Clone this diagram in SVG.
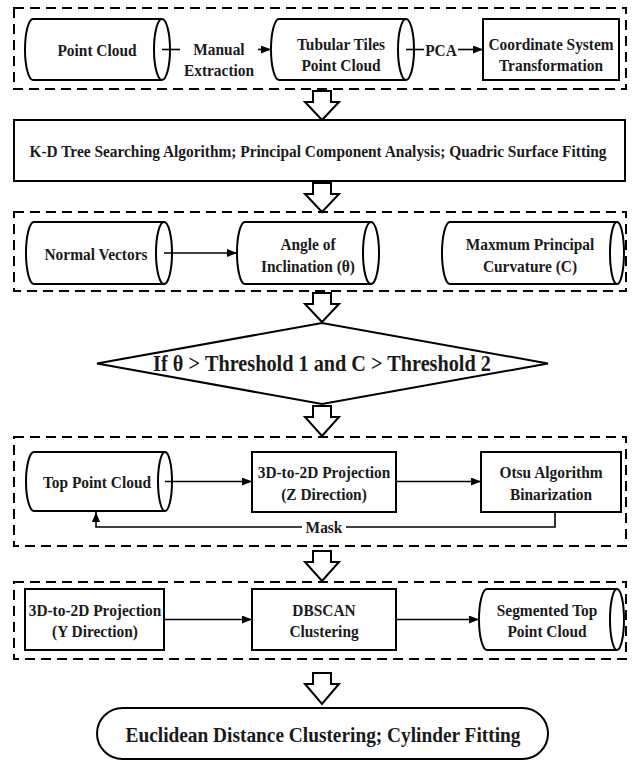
<svg xmlns="http://www.w3.org/2000/svg" width="633" height="765" viewBox="0 0 633 765" font-family="'Liberation Serif', 'Times New Roman', 'DejaVu Serif', serif">
<defs>
<marker id="ah" markerWidth="10" markerHeight="8" refX="10" refY="4" orient="auto" markerUnits="userSpaceOnUse">
<path d="M0,0 L10,4 L0,8 Z" fill="#000"/>
</marker>
</defs>
<style>
.grp{fill:none;stroke:#000;stroke-width:2;stroke-dasharray:10 6}
.sh{fill:#fff;stroke:#000;stroke-width:2}
.cyl{fill:none;stroke:#000;stroke-width:2}
.ln{fill:none;stroke:#000;stroke-width:1.6}
.ha{fill:#fff;stroke:#000;stroke-width:2;stroke-linejoin:miter}
.t{font-family:'Liberation Serif','Times New Roman',serif;font-weight:bold;font-size:17.5px;fill:#1a1a1a;text-anchor:middle}
.big{font-size:22.5px}
.fin{font-size:21.5px}
</style>
<rect x="0" y="0" width="633" height="765" fill="#fff"/>

<g id="groups">
<rect class="grp" x="14" y="8" width="612" height="81"/>
<rect class="grp" x="14" y="212" width="612" height="79"/>
<rect class="grp" x="14" y="437" width="612" height="109"/>
<rect class="grp" x="14" y="582" width="612" height="77"/>
</g>

<g id="flow-arrows">
<path class="ha" d="M313,91 V102 H305 L322,120 L339,102 H331 V91 Z"/>
<path class="ha" d="M313,183 V194 H305 L322,212 L339,194 H331 V183 Z"/>
<path class="ha" d="M313,293 V304 H305 L322,322 L339,304 H331 V293 Z"/>
<path class="ha" d="M313,406 V417 H305 L322,436 L339,417 H331 V406 Z"/>
<path class="ha" d="M313,551 V562 H305 L322,581 L339,562 H331 V551 Z"/>
<path class="ha" d="M313,673 V684 H305 L322,704 L339,684 H331 V673 Z"/>
</g>

<g id="point-cloud">
<path class="cyl" d="M33,19 H162 M33,80 H162 M33,19 A8,30.5 0 0 0 33,80"/>
<ellipse class="cyl" cx="162" cy="49.5" rx="8" ry="30.5"/>
<text class="t" transform="translate(97,55.5) scale(0.88,1)">Point Cloud</text>
</g>
<g id="tubular-tiles">
<path class="cyl" d="M279,19 H406 M279,80 H406 M279,19 A8,30.5 0 0 0 279,80"/>
<ellipse class="cyl" cx="406" cy="49.5" rx="8" ry="30.5"/>
<text class="t" transform="translate(341,49.5) scale(0.88,1)">Tubular Tiles</text>
<text class="t" transform="translate(341,71) scale(0.88,1)">Point Cloud</text>
</g>
<g id="coordinate-transform">
<rect class="sh" x="483" y="19" width="136" height="61"/>
<text class="t" transform="translate(551,49.5) scale(0.88,1)">Coordinate System</text>
<text class="t" transform="translate(551,71) scale(0.88,1)">Transformation</text>
</g>

<g id="kd-tree">
<rect class="sh" x="14" y="120" width="611" height="61"/>
<text class="t" transform="translate(318,157) scale(0.88,1)">K-D Tree Searching Algorithm; Principal Component Analysis; Quadric Surface Fitting</text>
</g>
<g id="normal-vectors">
<path class="cyl" d="M34,222 H164 M34,284 H164 M34,222 A8,31 0 0 0 34,284"/>
<ellipse class="cyl" cx="164" cy="253" rx="8" ry="31"/>
<text class="t" transform="translate(96,260) scale(0.88,1)">Normal Vectors</text>
</g>
<g id="angle-inclination">
<path class="cyl" d="M245,222 H371 M245,284 H371 M245,222 A8,31 0 0 0 245,284"/>
<ellipse class="cyl" cx="371" cy="253" rx="8" ry="31"/>
<text class="t" transform="translate(308,250) scale(0.88,1)">Angle of</text>
<text class="t" transform="translate(308,272) scale(0.88,1)">Inclination (θ)</text>
</g>
<g id="max-curvature">
<path class="cyl" d="M450,222 H617 M450,284 H617 M450,222 A8,31 0 0 0 450,284"/>
<ellipse class="cyl" cx="617" cy="253" rx="7" ry="31"/>
<text class="t" transform="translate(530,250) scale(0.88,1)">Maxmum Principal</text>
<text class="t" transform="translate(530,272) scale(0.88,1)">Curvature (C)</text>
</g>

<g id="threshold-decision">
<polygon class="sh" points="97,363.5 322,323 548,363.5 322,404"/>
<text class="t big" transform="translate(322,371) scale(0.9,1)">If θ &gt; Threshold 1 and C &gt; Threshold 2</text>
</g>

<g id="top-point-cloud">
<path class="cyl" d="M34,452 H165 M34,511 H165 M34,452 A8,29.5 0 0 0 34,511"/>
<ellipse class="cyl" cx="165" cy="481.5" rx="7" ry="29.5"/>
<text class="t" transform="translate(97,488) scale(0.88,1)">Top Point Cloud</text>
</g>
<g id="projection-z">
<rect class="sh" x="252" y="452" width="144" height="60"/>
<text class="t" transform="translate(324,478) scale(0.88,1)">3D-to-2D Projection</text>
<text class="t" transform="translate(324,500) scale(0.88,1)">(Z Direction)</text>
</g>
<g id="otsu">
<rect class="sh" x="481" y="452" width="140" height="60"/>
<text class="t" transform="translate(551,478) scale(0.88,1)">Otsu Algorithm</text>
<text class="t" transform="translate(551,500) scale(0.88,1)">Binarization</text>
</g>

<g id="projection-y">
<rect class="sh" x="25" y="589" width="139" height="61"/>
<text class="t" transform="translate(95,615.5) scale(0.88,1)">3D-to-2D Projection</text>
<text class="t" transform="translate(95,637) scale(0.88,1)">(Y Direction)</text>
</g>
<g id="dbscan">
<rect class="sh" x="252" y="589" width="144" height="61"/>
<text class="t" transform="translate(324,615.5) scale(0.88,1)">DBSCAN</text>
<text class="t" transform="translate(324,637) scale(0.88,1)">Clustering</text>
</g>
<g id="segmented-top">
<path class="cyl" d="M487,589 H617 M487,650 H617 M487,589 A8,30.5 0 0 0 487,650"/>
<ellipse class="cyl" cx="617" cy="619.5" rx="7" ry="30.5"/>
<text class="t" transform="translate(547,615.5) scale(0.88,1)">Segmented Top</text>
<text class="t" transform="translate(547,637) scale(0.88,1)">Point Cloud</text>
</g>

<g id="euclidean-cylinder">
<rect class="sh" x="97" y="708" width="451" height="51" rx="25.5" ry="25.5"/>
<text class="t fin" transform="translate(323,741.5) scale(0.9,1)">Euclidean Distance Clustering; Cylinder Fitting</text>
</g>

<g id="connectors">
<path class="ln" d="M162,49.5 H180"/>
<path class="ln" d="M258,49.5 H271" marker-end="url(#ah)"/>
<text class="t" transform="translate(219,55) scale(0.88,1)">Manual</text>
<text class="t" transform="translate(219,76) scale(0.88,1)">Extraction</text>
<path class="ln" d="M406,49.5 H424"/>
<path class="ln" d="M458,49.5 H483" marker-end="url(#ah)"/>
<text class="t" transform="translate(441,55.5) scale(0.88,1)">PCA</text>
<path class="ln" d="M164,253 H237" marker-end="url(#ah)"/>
<path class="ln" d="M165,481.5 H252" marker-end="url(#ah)"/>
<path class="ln" d="M396,481.5 H481" marker-end="url(#ah)"/>
<path class="ln" d="M555,512 V527 H346 M302,527 H96 V512" marker-end="url(#ah)"/>
<text class="t" transform="translate(324,533) scale(0.88,1)">Mask</text>
<path class="ln" d="M164,619.5 H252" marker-end="url(#ah)"/>
<path class="ln" d="M396,619.5 H479" marker-end="url(#ah)"/>
</g>
</svg>
